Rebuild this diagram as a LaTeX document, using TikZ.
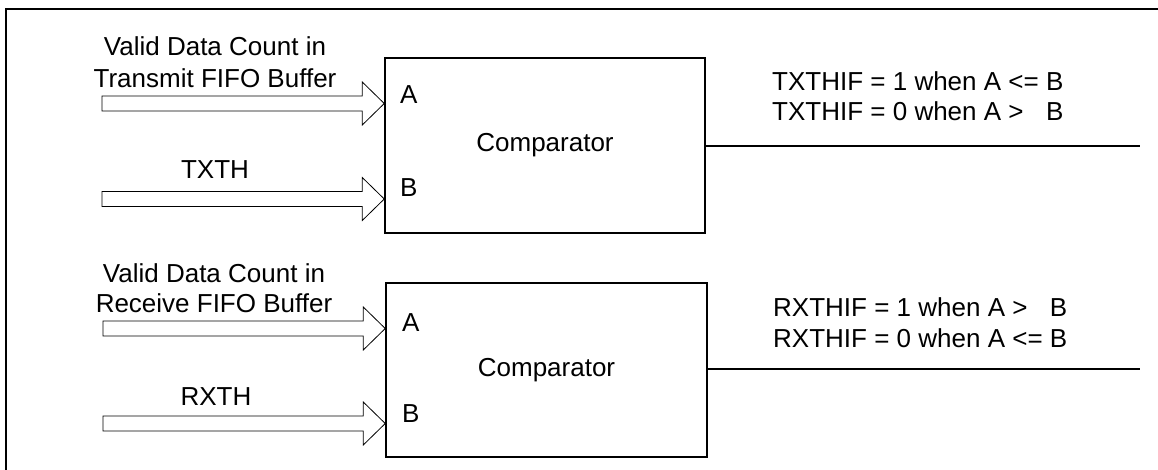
\documentclass[tikz,border=0pt]{standalone}
\usepackage{fontspec}
\setmainfont{Liberation Sans}
\usetikzlibrary{calc}
\begin{document}
\begin{tikzpicture}[x=1pt,y=-1pt,
  lbl/.style={inner sep=0pt,anchor=base,font=\fontsize{26}{32}\selectfont},
  lbll/.style={lbl,anchor=base west},
  cmp/.style={draw,line width=1.5pt,inner sep=0pt,font=\fontsize{26}{32}\selectfont},
  barrow/.style={draw,line width=0.8pt,line join=miter},
  outline/.style={line width=1.3pt},
  frame/.style={line width=2pt}]
\useasboundingbox (0,0) rectangle (1158,470);
% frame
\coordinate (ftr) at (1158,9);
\coordinate (ftl) at (6,9);
\coordinate (fbl) at (6,470);
\draw[frame] (ftr) -- (ftl) -- (fbl);
% comparators
\node[cmp,minimum width=320pt,minimum height=175pt] (c1) at (545,145.5) {Comparator};
\node[cmp,minimum width=321pt,minimum height=174pt] (c2) at (546.5,370) {Comparator};
% port labels
\node[lbll] (a1) at (400,104) {A};
\node[lbll] (b1) at (400,197) {B};
\node[lbll] (a2) at (402,331) {A};
\node[lbll] (b2) at (402,422) {B};
% block arrows (tip on the box's west side)
\foreach \n/\b/\y/\tx in {ta1/c1/103.5/102, tb1/c1/199/102, ta2/c2/328.5/103, tb2/c2/423.5/103}{
  \coordinate (\n) at (\b.west |- 0,\y);
  \draw[barrow] (\n) -- ++(-22,-21.5) -- ++(0,14) -- (\tx,\y-7.5) -- (\tx,\y+7.5)
     -- ($(\n)+(-22,7.5)$) -- ++(0,14) -- cycle;
}
% input labels
\node[lbl] (v1) at (215,56) {Valid Data Count in};
\node[lbl] (v1b) at (215,88) {Transmit FIFO Buffer};
\node[lbl] (t1) at (215,179) {TXTH};
\node[lbl] (v2) at (214,282) {Valid Data Count in};
\node[lbl] (v2b) at (214,312) {Receive FIFO Buffer};
\node[lbl] (r2) at (216,405) {RXTH};
% outputs
\coordinate (o1) at (1140,146);
\coordinate (o2) at (1140,369);
\draw[outline] (c1.east |- o1) -- (o1);
\draw[outline] (c2.east |- o2) -- (o2);
\node[lbll] (x1) at (772,91) {TXTHIF = 1 when A <= B};
\node[lbll] (x2) at (772,121) {TXTHIF = 0 when A \rlap{>}\phantom{<=} B};
\node[lbll] (y1) at (773,316) {RXTHIF = 1 when A \rlap{>}\phantom{<=} B};
\node[lbll] (y2) at (773,347) {RXTHIF = 0 when A <= B};
\end{tikzpicture}
\end{document}
